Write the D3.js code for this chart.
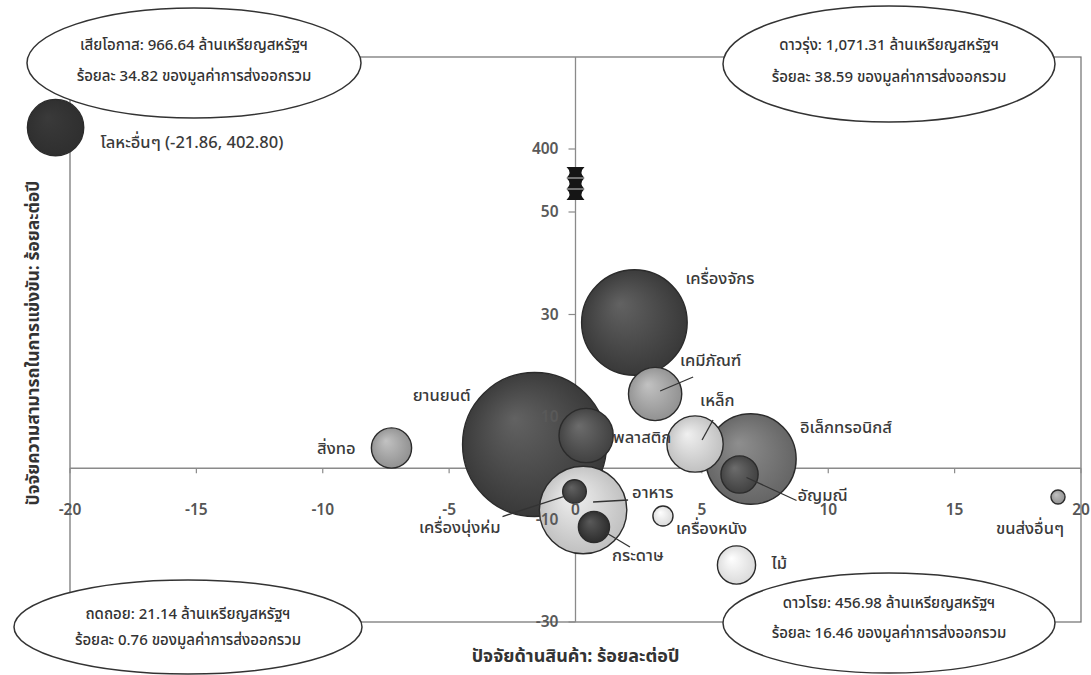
<!DOCTYPE html>
<html lang="th">
<head>
<meta charset="utf-8">
<script src="https://cdn.jsdelivr.net/npm/d3@7"></script>
<style>
  html, body { margin: 0; padding: 0; background: #fff; }
  svg { display: block; font-family: "Noto Sans Thai", "Loma", "Garuda", "Tahoma", "Noto Sans", sans-serif; }
</style>
</head>
<body>
<svg id="chart" width="1091" height="675"></svg>
<script>
// Export products: growth of product factor (x), competitiveness factor (y), export value (bubble area)
const categories = ["ยานยนต์", "เครื่องจักร", "อิเล็กทรอนิกส์", "อาหาร", "เหล็ก", "โลหะอื่นๆ", "พลาสติก", "เคมีภัณฑ์", "สิ่งทอ", "ไม้", "อัญมณี", "กระดาษ", "เครื่องนุ่งห่ม", "เครื่องหนัง", "ขนส่งอื่นๆ"];
const productFactor = [-1.62, 2.33, 6.94, 0.30, 4.73, -21.86, 0.42, 3.15, -7.28, 6.37, 6.49, 0.73, -0.04, 3.46, 19.09];
const competitiveness = [4.63, 28.44, 1.80, -8.15, 4.73, 402.80, 6.39, 14.49, 3.95, -18.88, -1.22, -11.46, -4.54, -9.32, -5.61];
const exportValue = [785, 422, 310, 289.5, 120, 120, 111.5, 107.4, 61.2, 55.2, 52.3, 36.7, 21.14, 15.3, 7.5];

// Quadrant summaries
const quadrantNames = ["เสียโอกาส", "ดาวรุ่ง", "ถดถอย", "ดาวโรย"];
const quadrantValues = ["966.64", "1,071.31", "21.14", "456.98"];
const quadrantShares = ["34.82", "38.59", "0.76", "16.46"];

// Axis ticks
const xTicks = [-20, -15, -10, -5, 0, 5, 10, 15, 20];
const yTicks = [-30, -10, 10, 30, 50, 400];

const xTitle = "ปัจจัยด้านสินค้า: ร้อยละต่อปี";
const yTitle = "ปัจจัยความสามารถในการแข่งขัน: ร้อยละต่อปี";

const svg = d3.select("#chart");

// Broken scales: the outlier beyond -20 / above 50 sits in compressed segments
const x = d3.scaleLinear().domain([-22, -20, 20]).range([54.5, 70, 1081]);
const y = d3.scaleLinear().domain([-30, 50, 400, 412]).range([622, 212, 149, 57]);
const r = d3.scaleSqrt().domain([0, 785]).range([0, 72]);

const x0 = x(0), y0 = y(0);
const plotL = x(-20), plotR = x(20), plotT = y(412), plotB = y(-30);

// Tone of each bubble
const tone = {
  "ยานยนต์": "dark", "เครื่องจักร": "dark", "อิเล็กทรอนิกส์": "middark", "อาหาร": "light",
  "เหล็ก": "light", "โลหะอื่นๆ": "flat", "พลาสติก": "dark2", "เคมีภัณฑ์": "mid",
  "สิ่งทอ": "mid", "ไม้": "white", "อัญมณี": "dark2", "กระดาษ": "darkest",
  "เครื่องนุ่งห่ม": "dark", "เครื่องหนัง": "white", "ขนส่งอื่นๆ": "mid"
};
const tones = {
  darkest: ["#5a5a5a", "#2a2a2a"],
  dark:    ["#626262", "#363636"],
  dark2:   ["#6c6c6c", "#3e3e3e"],
  flat:    ["#3a3a3a", "#2e2e2e"],
  middark: ["#8e8e8e", "#626262"],
  mid:     ["#c2c2c2", "#8e8e8e"],
  light:   ["#f0f0f0", "#bdbdbd"],
  white:   ["#ffffff", "#d8d8d8"]
};

const defs = svg.append("defs");
Object.entries(tones).forEach(([k, [hi, lo]]) => {
  const g = defs.append("radialGradient").attr("id", "g-" + k)
    .attr("cx", "50%").attr("cy", "50%").attr("r", "55%")
    .attr("fx", "36%").attr("fy", "32%");
  g.append("stop").attr("offset", "0%").attr("stop-color", hi);
  g.append("stop").attr("offset", "100%").attr("stop-color", lo);
});

// Plot frame
svg.append("rect")
  .attr("x", plotL).attr("y", plotT)
  .attr("width", plotR - plotL).attr("height", plotB - plotT)
  .attr("fill", "none").attr("stroke", "#6e6e6e").attr("stroke-width", 1.2);

// Axis lines through the origin
svg.append("line").attr("x1", plotL).attr("x2", plotR).attr("y1", y0).attr("y2", y0)
  .attr("stroke", "#8a8a8a").attr("stroke-width", 1.3);
svg.append("line").attr("x1", x0).attr("x2", x0).attr("y1", plotT).attr("y2", plotB)
  .attr("stroke", "#8a8a8a").attr("stroke-width", 1.3);

// Tick marks
svg.append("g").selectAll("line").data(xTicks).join("line")
  .attr("x1", d => x(d)).attr("x2", d => x(d))
  .attr("y1", y0).attr("y2", y0 + 5)
  .attr("stroke", "#8a8a8a").attr("stroke-width", 1.2);
svg.append("g").selectAll("line").data(yTicks).join("line")
  .attr("x1", x0 - 7).attr("x2", x0)
  .attr("y1", d => y(d)).attr("y2", d => y(d))
  .attr("stroke", "#8a8a8a").attr("stroke-width", 1.2);

// Bubbles, largest first so smaller ones sit on top
const points = categories.map((name, i) => ({
  name, px: productFactor[i], cy: competitiveness[i], v: exportValue[i]
})).sort((a, b) => b.v - a.v);

svg.append("g").selectAll("circle").data(points).join("circle")
  .attr("cx", d => x(d.px))
  .attr("cy", d => y(d.cy))
  .attr("r", d => r(d.v))
  .attr("fill", d => `url(#g-${tone[d.name]})`)
  .attr("stroke", "#2b2b2b").attr("stroke-width", 1.4);

// Axis break marker on the vertical axis
const bm = (y(50) + y(400)) / 2 + 3;
const bw = 9, bn = 3, seg = 11, bh = seg * 3;
let bp = `M${x0 - bw},${bm - bh / 2} L${x0 + bw},${bm - bh / 2}`;
for (let i = 0; i < 3; i++) {
  const a = bm - bh / 2 + i * seg;
  bp += ` Q${x0 + bn},${a + seg / 2} ${x0 + bw},${a + seg}`;
}
bp += ` L${x0 - bw},${bm + bh / 2}`;
for (let i = 2; i >= 0; i--) {
  const a = bm - bh / 2 + i * seg;
  bp += ` Q${x0 - bn},${a + seg / 2} ${x0 - bw},${a}`;
}
bp += " Z";
svg.append("path").attr("d", bp).attr("fill", "#151515");
svg.append("g").selectAll("line").data([1, 2]).join("line")
  .attr("x1", x0 - bw).attr("x2", x0 + bw)
  .attr("y1", d => bm - bh / 2 + d * seg).attr("y2", d => bm - bh / 2 + d * seg)
  .attr("stroke", "#fff").attr("stroke-width", 0.8);

// Tick labels (drawn over the bubbles)
svg.append("g").selectAll("text").data(xTicks).join("text")
  .attr("x", d => x(d)).attr("y", y0 + 47)
  .attr("text-anchor", "middle")
  .attr("font-size", 15.5).attr("font-weight", 600).attr("fill", "#555")
  .text(d => d);
svg.append("g").selectAll("text").data(yTicks).join("text")
  .attr("x", x0 - 17).attr("y", d => y(d) + 5)
  .attr("text-anchor", "end")
  .attr("font-size", 15.5).attr("font-weight", 600).attr("fill", "#595959")
  .text(d => d);

// Bubble labels: offsets from the bubble centre, optional leader line
const labelLayout = {
  "เครื่องจักร":     { dx: 51, dy: -44, anchor: "start" },
  "เคมีภัณฑ์":       { dx: 25, dy: -34, anchor: "start", lead: [5, -3, 38, -17] },
  "ยานยนต์":        { dx: -64, dy: -50, anchor: "end" },
  "พลาสติก":        { dx: 27, dy: 1, anchor: "start" },
  "สิ่งทอ":          { dx: -36, dy: 0, anchor: "end" },
  "อาหาร":          { dx: 49, dy: -18, anchor: "start", lead: [10, -8, 45, -10] },
  "เครื่องนุ่งห่ม":   { dx: -74, dy: 35, anchor: "end", lead: [-11, 5, -72, 25] },
  "กระดาษ":         { dx: 18, dy: 28, anchor: "start", lead: [11, 5, 36, 20] },
  "เหล็ก":          { dx: 5, dy: -44, anchor: "start", lead: [7, -4, 18, -24] },
  "อิเล็กทรอนิกส์":  { dx: 49, dy: -32, anchor: "start" },
  "อัญมณี":         { dx: 58, dy: 20, anchor: "start", lead: [7, 3, 57, 26] },
  "เครื่องหนัง":     { dx: 13, dy: 12, anchor: "start" },
  "ไม้":            { dx: 35, dy: -2, anchor: "start" },
  "ขนส่งอื่นๆ":      { dx: -28, dy: 31, anchor: "middle" },
  "โลหะอื่นๆ":       { dx: 45, dy: 14, anchor: "start" }
};

const lab = svg.append("g");
points.forEach(d => {
  const L = labelLayout[d.name];
  const cx = x(d.px), cy = y(d.cy);
  if (L.lead) {
    lab.append("line")
      .attr("x1", cx + L.lead[0]).attr("y1", cy + L.lead[1])
      .attr("x2", cx + L.lead[2]).attr("y2", cy + L.lead[3])
      .attr("stroke", "#333").attr("stroke-width", 1.3);
  }
  const label = d.name === "โลหะอื่นๆ"
    ? `${d.name} (${d.px.toFixed(2)}, ${d.cy.toFixed(2)})`
    : d.name;
  lab.append("text")
    .attr("x", cx + L.dx).attr("y", cy + L.dy + 6)
    .attr("text-anchor", L.anchor)
    .attr("font-size", 16.5).attr("font-weight", 500).attr("fill", "#3a3a3a")
    .text(label);
});

// Quadrant summary ellipses
const qBox = [
  { cx: 194, cy: 63, rx: 167, ry: 55, t1: 50, t2: 81 },
  { cx: 889, cy: 64, rx: 166, ry: 58, t1: 50, t2: 82 },
  { cx: 188, cy: 627, rx: 174, ry: 47, t1: 619, t2: 645 },
  { cx: 889, cy: 623, rx: 166, ry: 50, t1: 608, t2: 638 }
];
const qg = svg.append("g");
quadrantNames.forEach((n, i) => {
  const b = qBox[i];
  qg.append("ellipse")
    .attr("cx", b.cx).attr("cy", b.cy).attr("rx", b.rx).attr("ry", b.ry)
    .attr("fill", "#fff").attr("stroke", "#333").attr("stroke-width", 1.5);
  qg.append("text").attr("x", b.cx).attr("y", b.t1)
    .attr("text-anchor", "middle").attr("font-size", 15).attr("font-weight", 500).attr("fill", "#333")
    .text(`${n}: ${quadrantValues[i]} ล้านเหรียญสหรัฐฯ`);
  qg.append("text").attr("x", b.cx).attr("y", b.t2)
    .attr("text-anchor", "middle").attr("font-size", 15).attr("font-weight", 500).attr("fill", "#333")
    .text(`ร้อยละ ${quadrantShares[i]} ของมูลค่าการส่งออกรวม`);
});

// Axis titles
svg.append("text")
  .attr("x", x0).attr("y", 662)
  .attr("text-anchor", "middle")
  .attr("font-size", 18).attr("font-weight", 700).attr("fill", "#333")
  .text(xTitle);
svg.append("text")
  .attr("transform", `translate(39,343) rotate(-90)`)
  .attr("text-anchor", "middle")
  .attr("font-size", 17.5).attr("font-weight", 700).attr("fill", "#333")
  .text(yTitle);
</script>
</body>
</html>
